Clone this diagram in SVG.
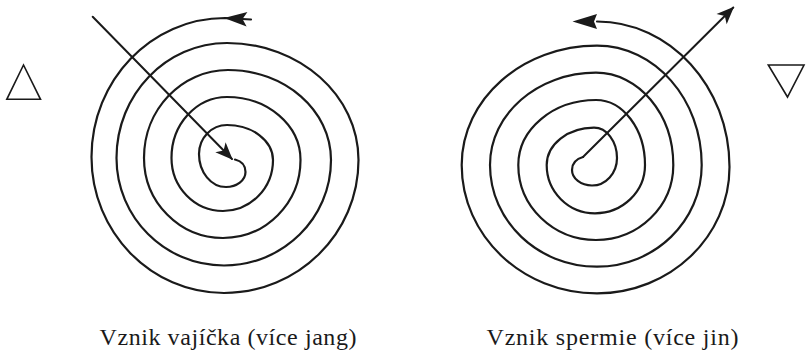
<svg xmlns="http://www.w3.org/2000/svg" width="807" height="353" viewBox="0 0 807 353">
<style>
.spiral{fill:none;stroke:#1a1a1a;stroke-width:2.2;stroke-linecap:round;stroke-linejoin:round}
.conn{fill:none;stroke:#1a1a1a;stroke-width:2;stroke-linecap:round}
.tri{fill:none;stroke:#1a1a1a;stroke-width:1.6;stroke-linejoin:miter}
.lbl{font-family:"Liberation Serif","Times New Roman",serif;font-size:24px;fill:#1a1a1a;text-anchor:middle}
.head{fill:#1a1a1a;stroke:none}
</style>
<defs>
<marker id="barbEnd" markerUnits="userSpaceOnUse" orient="auto" refX="0" refY="0" markerWidth="24" markerHeight="20" viewBox="-20 -10 24 20" overflow="visible">
<path class="head" d="M1,0 L-16.5,-7.2 L-12,0 L-16.5,7.2 Z"/>
</marker>
<marker id="leftStart" markerUnits="userSpaceOnUse" orient="auto" refX="0" refY="0" markerWidth="32" markerHeight="20" viewBox="-2 -10 32 20" overflow="visible">
<path class="head" d="M27,0 L4,-7.2 L8.5,0 L4,7.2 Z"/>
</marker>
<marker id="rightStart" markerUnits="userSpaceOnUse" orient="auto-start-reverse" refX="0" refY="0" markerWidth="30" markerHeight="20" viewBox="-2 -10 30 20" overflow="visible">
<path class="head" d="M24.5,0 L0,-7.4 L3,0 L0,7.4 Z"/>
</marker>
</defs>

<g id="triangle-up">
<polygon class="tri" points="23.5,65 6.8,99.3 40.5,99.3"/>
</g>

<g id="spiral-left">
<path class="spiral" marker-start="url(#leftStart)" d="M251,19.5 L225,18
C151.3,18 91.5,80.3 91.5,157
C91.5,232.1 150.9,293 224,293
C298.2,293 358.5,233.4 358.5,160
C358.5,95.4 299.6,43 227,43
C166,43 116.5,94.5 116.5,158
C116.5,217.3 164.7,265.5 224,265.5
C283.1,265.5 331,218.2 331,160
C331,110.3 284.9,70 228,70
C181.6,70 144,109.4 144,158
C144,202.2 179.4,238 223,238
C265.8,238 300.5,203.1 300.5,160
C300.5,125.2 267.6,97 227,97
C196.4,97 171.5,124.3 171.5,158
C171.5,187.3 194.6,211 223,211
C250.6,211 273,188.2 273,160
C273,140.7 252.4,125 227,125
C211.5,125 199,138 199,154
C199,172.2 211.1,187 226,187
C236.8,187 245.5,180.3 245.5,172
C245.5,165 241,161 235,159.5"/>
</g>

<g id="spiral-right">
<path class="spiral" marker-start="url(#rightStart)" d="M597,21.5
C670.1,21.5 729.5,86.7 729.5,167
C729.5,236.7 670.1,293.3 597,293.3
C522.3,293.3 461.7,235.8 461.7,165
C461.7,99.1 522.3,45.7 597,45.7
C654.8,45.7 701.7,99.1 701.7,165
C701.7,221.1 654.8,266.7 597,266.7
C537.9,266.7 490,221.1 490,165
C490,114.1 537.5,72.7 596,72.7
C638.7,72.7 673.3,114.1 673.3,165
C673.3,206.4 638.7,240 596,240
C553.1,240 518.3,206.4 518.3,165
C518.3,129.1 553.1,100 596,100
C623,100 645,129.1 645,165
C645,191.7 622.6,213.3 595,213.3
C568.3,213.3 546.7,191.7 546.7,165
C546.7,144.4 567.9,127.7 594,127.7
C606.7,127.7 617,141.3 617,158
C617,173.2 605.8,185.5 592,185.5
C581,185.5 572,178.6 572,170
C572,163 576,159 583,157"/>
</g>

<g id="triangle-down">
<polygon class="tri" points="768.3,65 804,65 787.5,97"/>
</g>

<g id="connectors">
<line class="conn" x1="92.7" y1="16.7" x2="232" y2="159" marker-end="url(#barbEnd)"/>
<line class="conn" x1="583" y1="157" x2="733.3" y2="7.5" marker-end="url(#barbEnd)"/>
</g>

<g id="labels">
<text class="lbl" x="228" y="345" textLength="257" lengthAdjust="spacing">Vznik vajíčka (více jang)</text>
<text class="lbl" x="612.5" y="345" textLength="252" lengthAdjust="spacing">Vznik spermie (více jin)</text>
</g>
</svg>
